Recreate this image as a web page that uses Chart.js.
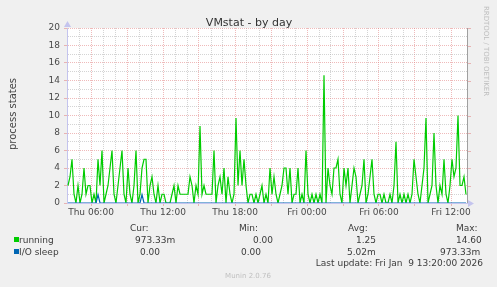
<!DOCTYPE html>
<html>
<head>
<meta charset="utf-8">
<script src="https://cdn.jsdelivr.net/npm/chart.js@4.4.1/dist/chart.umd.min.js"></script>
<style>
  body { margin: 0; background: #f0f0f0; }
  canvas { display: block; }
</style>
</head>
<body>
<canvas id="vmstat" width="497" height="287"></canvas>
<script>
// time axis in hours since Thu 00:00, one sample per 10 minutes
const startHour = 4
const endHour = 37 + 1 / 3
const sampleStep = 1 / 6

const running = [
  2, 3, 5, 1, 0, 2, 0, 1, 4, 1,
  2, 2, 0, 1, 0, 5, 2, 6, 0, 1,
  2, 4, 6, 1, 0, 2, 4, 6, 1, 0,
  4, 1, 0, 2, 6, 0, 1, 4, 5, 5,
  0, 2, 3, 1, 0, 2, 0, 1, 1, 0,
  0, 0, 1, 2, 0, 2, 1, 1, 1, 1,
  1, 3, 2, 0, 2, 1, 8.8, 1, 2, 1,
  1, 1, 1, 6, 0, 2, 3, 1, 4, 0,
  3, 1, 0, 1, 9.7, 2, 6, 2, 5, 2,
  0, 1, 1, 0, 1, 0, 1, 2, 0, 1,
  0, 4, 1, 3, 1, 0, 1, 2, 4, 4,
  1, 4, 0, 1, 1, 4, 0, 1, 0, 6,
  1, 0, 1, 0, 1, 0, 1, 0, 14.6, 0,
  4, 2, 1, 4, 4, 5, 1, 0, 4, 2,
  4, 0, 2, 4, 3, 0, 1, 2, 5, 0,
  1, 3, 5, 1, 0, 1, 1, 0, 1, 0,
  0, 1, 0, 2, 7, 0, 1, 0, 1, 0,
  1, 0, 1, 5, 3, 1, 0, 2, 4, 9.7,
  0, 1, 2, 8, 2, 0, 2, 1, 5, 1,
  0, 2, 5, 3, 4, 10, 2, 2, 3, 0.97
]
const ioSleep = running.map(() => 0)
ioSleep[15] = 0.97
ioSleep[37] = 0.97

const dayNames = ['Thu', 'Fri']
const seriesNames = ['running', 'I/O sleep']
const seriesColors = ['#00cc00', '#0066b3']
const curValues = ['973.33m', '0.00']
const minValues = ['0.00', '0.00']
const avgValues = ['1.25', '5.02m']
const maxValues = ['14.60', '973.33m']

const toPoints = arr => arr.map((v, i) => ({ x: startHour + (i + 0.5) * sampleStep, y: v }))

const majorGrid = 'rgba(225, 130, 130, 0.55)'
const minorGrid = 'rgba(170, 170, 170, 0.5)'
const axisColor = '#c4c4ee'
const font = 'DejaVu Sans'

const muninDecor = {
  id: 'muninDecor',
  beforeDraw(chart) {
    const { ctx, chartArea: a } = chart
    ctx.save()
    ctx.fillStyle = '#ffffff'
    ctx.fillRect(a.left, a.top, a.right - a.left, a.bottom - a.top)
    ctx.restore()
  },
  afterDraw(chart) {
    const { ctx, chartArea: a } = chart
    const y = chart.scales.y
    ctx.save()

    // right frame + ticks
    ctx.strokeStyle = '#a0a0a0'
    ctx.lineWidth = 1
    ctx.beginPath()
    ctx.moveTo(Math.round(a.right) + 0.5, a.top)
    ctx.lineTo(Math.round(a.right) + 0.5, a.bottom)
    ctx.stroke()
    ctx.strokeStyle = majorGrid
    for (let v = 2; v <= 20; v += 2) {
      const py = Math.round(y.getPixelForValue(v)) + 0.5
      ctx.beginPath()
      ctx.moveTo(a.right + 1, py)
      ctx.lineTo(a.right + 4, py)
      ctx.stroke()
    }

    // axis arrows
    ctx.fillStyle = axisColor
    ctx.beginPath()
    ctx.moveTo(a.left - 3, a.top - 1)
    ctx.lineTo(a.left + 0.5, a.top - 7)
    ctx.lineTo(a.left + 4, a.top - 1)
    ctx.fill()
    ctx.beginPath()
    ctx.moveTo(a.right + 1, a.bottom - 3)
    ctx.lineTo(a.right + 7, a.bottom + 0.5)
    ctx.lineTo(a.right + 1, a.bottom + 4)
    ctx.fill()

    // title
    ctx.fillStyle = '#333333'
    ctx.font = '11px "' + font + '"'
    ctx.textAlign = 'center'
    ctx.textBaseline = 'alphabetic'
    ctx.fillText('VMstat - by day', 249, 26)

    // y axis title
    ctx.save()
    ctx.translate(16, 114)
    ctx.rotate(-Math.PI / 2)
    ctx.font = '10px "' + font + '"'
    ctx.fillStyle = '#444444'
    ctx.fillText('process states', 0, 0)
    ctx.restore()

    // rrdtool credit
    ctx.save()
    ctx.translate(484, 51)
    ctx.rotate(Math.PI / 2)
    ctx.font = '7px "' + font + '"'
    ctx.fillStyle = '#bdbdbd'
    ctx.fillText('RRDTOOL / TOBI OETIKER', 0, 0)
    ctx.restore()

    // legend
    ctx.font = '9px "' + font + '"'
    ctx.textAlign = 'left'
    ctx.fillStyle = '#3c3c3c'
    ctx.fillText('Cur:', 130, 231)
    ctx.fillText('Min:', 239, 231)
    ctx.fillText('Avg:', 348, 231)
    ctx.fillText('Max:', 456, 231)

    const rowY = [243, 255]
    const colX = [[135, 253, 356, 456], [140, 241, 347, 440]]
    seriesNames.forEach((name, i) => {
      ctx.fillStyle = seriesColors[i]
      ctx.fillRect(14, rowY[i] - 6, 5, 5)
      ctx.fillStyle = '#3c3c3c'
      ctx.fillText(name, 19, rowY[i])
      ctx.fillText(curValues[i], colX[i][0], rowY[i])
      ctx.fillText(minValues[i], colX[i][1], rowY[i])
      ctx.fillText(avgValues[i], colX[i][2], rowY[i])
      ctx.fillText(maxValues[i], colX[i][3], rowY[i])
    })
    ctx.textAlign = 'right'
    ctx.fillText('Last update: Fri Jan  9 13:20:00 2026', 483, 266)

    ctx.textAlign = 'center'
    ctx.font = '7px "' + font + '"'
    ctx.fillStyle = '#c0c0c0'
    ctx.fillText('Munin 2.0.76', 248, 278)
    ctx.restore()
  }
}

const isMajorHour = v => Number.isInteger(v) && v % 3 === 0

const ctx = document.getElementById('vmstat').getContext('2d')
const vmChart = new Chart(ctx, {
  type: 'line',
  data: {
    datasets: [{
      label: seriesNames[0],
      data: toPoints(running),
      borderColor: seriesColors[0],
      borderWidth: 1.2,
      pointRadius: 0,
      tension: 0,
      order: 2
    }, {
      label: seriesNames[1],
      data: toPoints(ioSleep),
      borderColor: seriesColors[1],
      borderWidth: 1.2,
      pointRadius: 0,
      tension: 0,
      order: 1
    }]
  },
  options: {
    responsive: false,
    animation: false,
    layout: { padding: { left: 27, right: 30, top: 28, bottom: 64 } },
    plugins: { legend: { display: false }, tooltip: { enabled: false } },
    scales: {
      x: {
        type: 'linear',
        min: startHour,
        max: endHour,
        afterFit: s => { s.height = 20 },
        ticks: {
          stepSize: 1,
          autoSkip: false,
          maxRotation: 0,
          padding: 1,
          color: '#4a4a4a',
          font: { family: font, size: 9 },
          callback: v => {
            if (!Number.isInteger(v) || v % 6 !== 0) return ''
            const hh = v % 24
            return dayNames[Math.floor(v / 24) - 0] + ' ' + String(hh).padStart(2, '0') + ':00'
          }
        },
        grid: {
          color: c => c.tick && c.tick.value === endHour ? 'rgba(0,0,0,0)' : (isMajorHour(c.tick.value) ? majorGrid : minorGrid),
          tickColor: c => isMajorHour(c.tick.value) ? majorGrid : 'rgba(0,0,0,0)',
          tickLength: 3
        },
        border: { color: axisColor, dash: [1, 1] }
      },
      y: {
        min: 0,
        max: 20,
        afterFit: s => { s.width = 40 },
        ticks: {
          stepSize: 1,
          autoSkip: false,
          padding: 4,
          color: '#4a4a4a',
          font: { family: font, size: 9 },
          callback: v => v % 2 === 0 ? String(v) : ''
        },
        grid: {
          color: c => c.tick.value % 2 === 0 ? majorGrid : minorGrid,
          tickColor: c => c.tick.value % 2 === 0 ? majorGrid : 'rgba(0,0,0,0)',
          tickLength: 3
        },
        border: { color: axisColor, dash: [1, 1] }
      }
    }
  },
  plugins: [muninDecor]
})
</script>
</body>
</html>
